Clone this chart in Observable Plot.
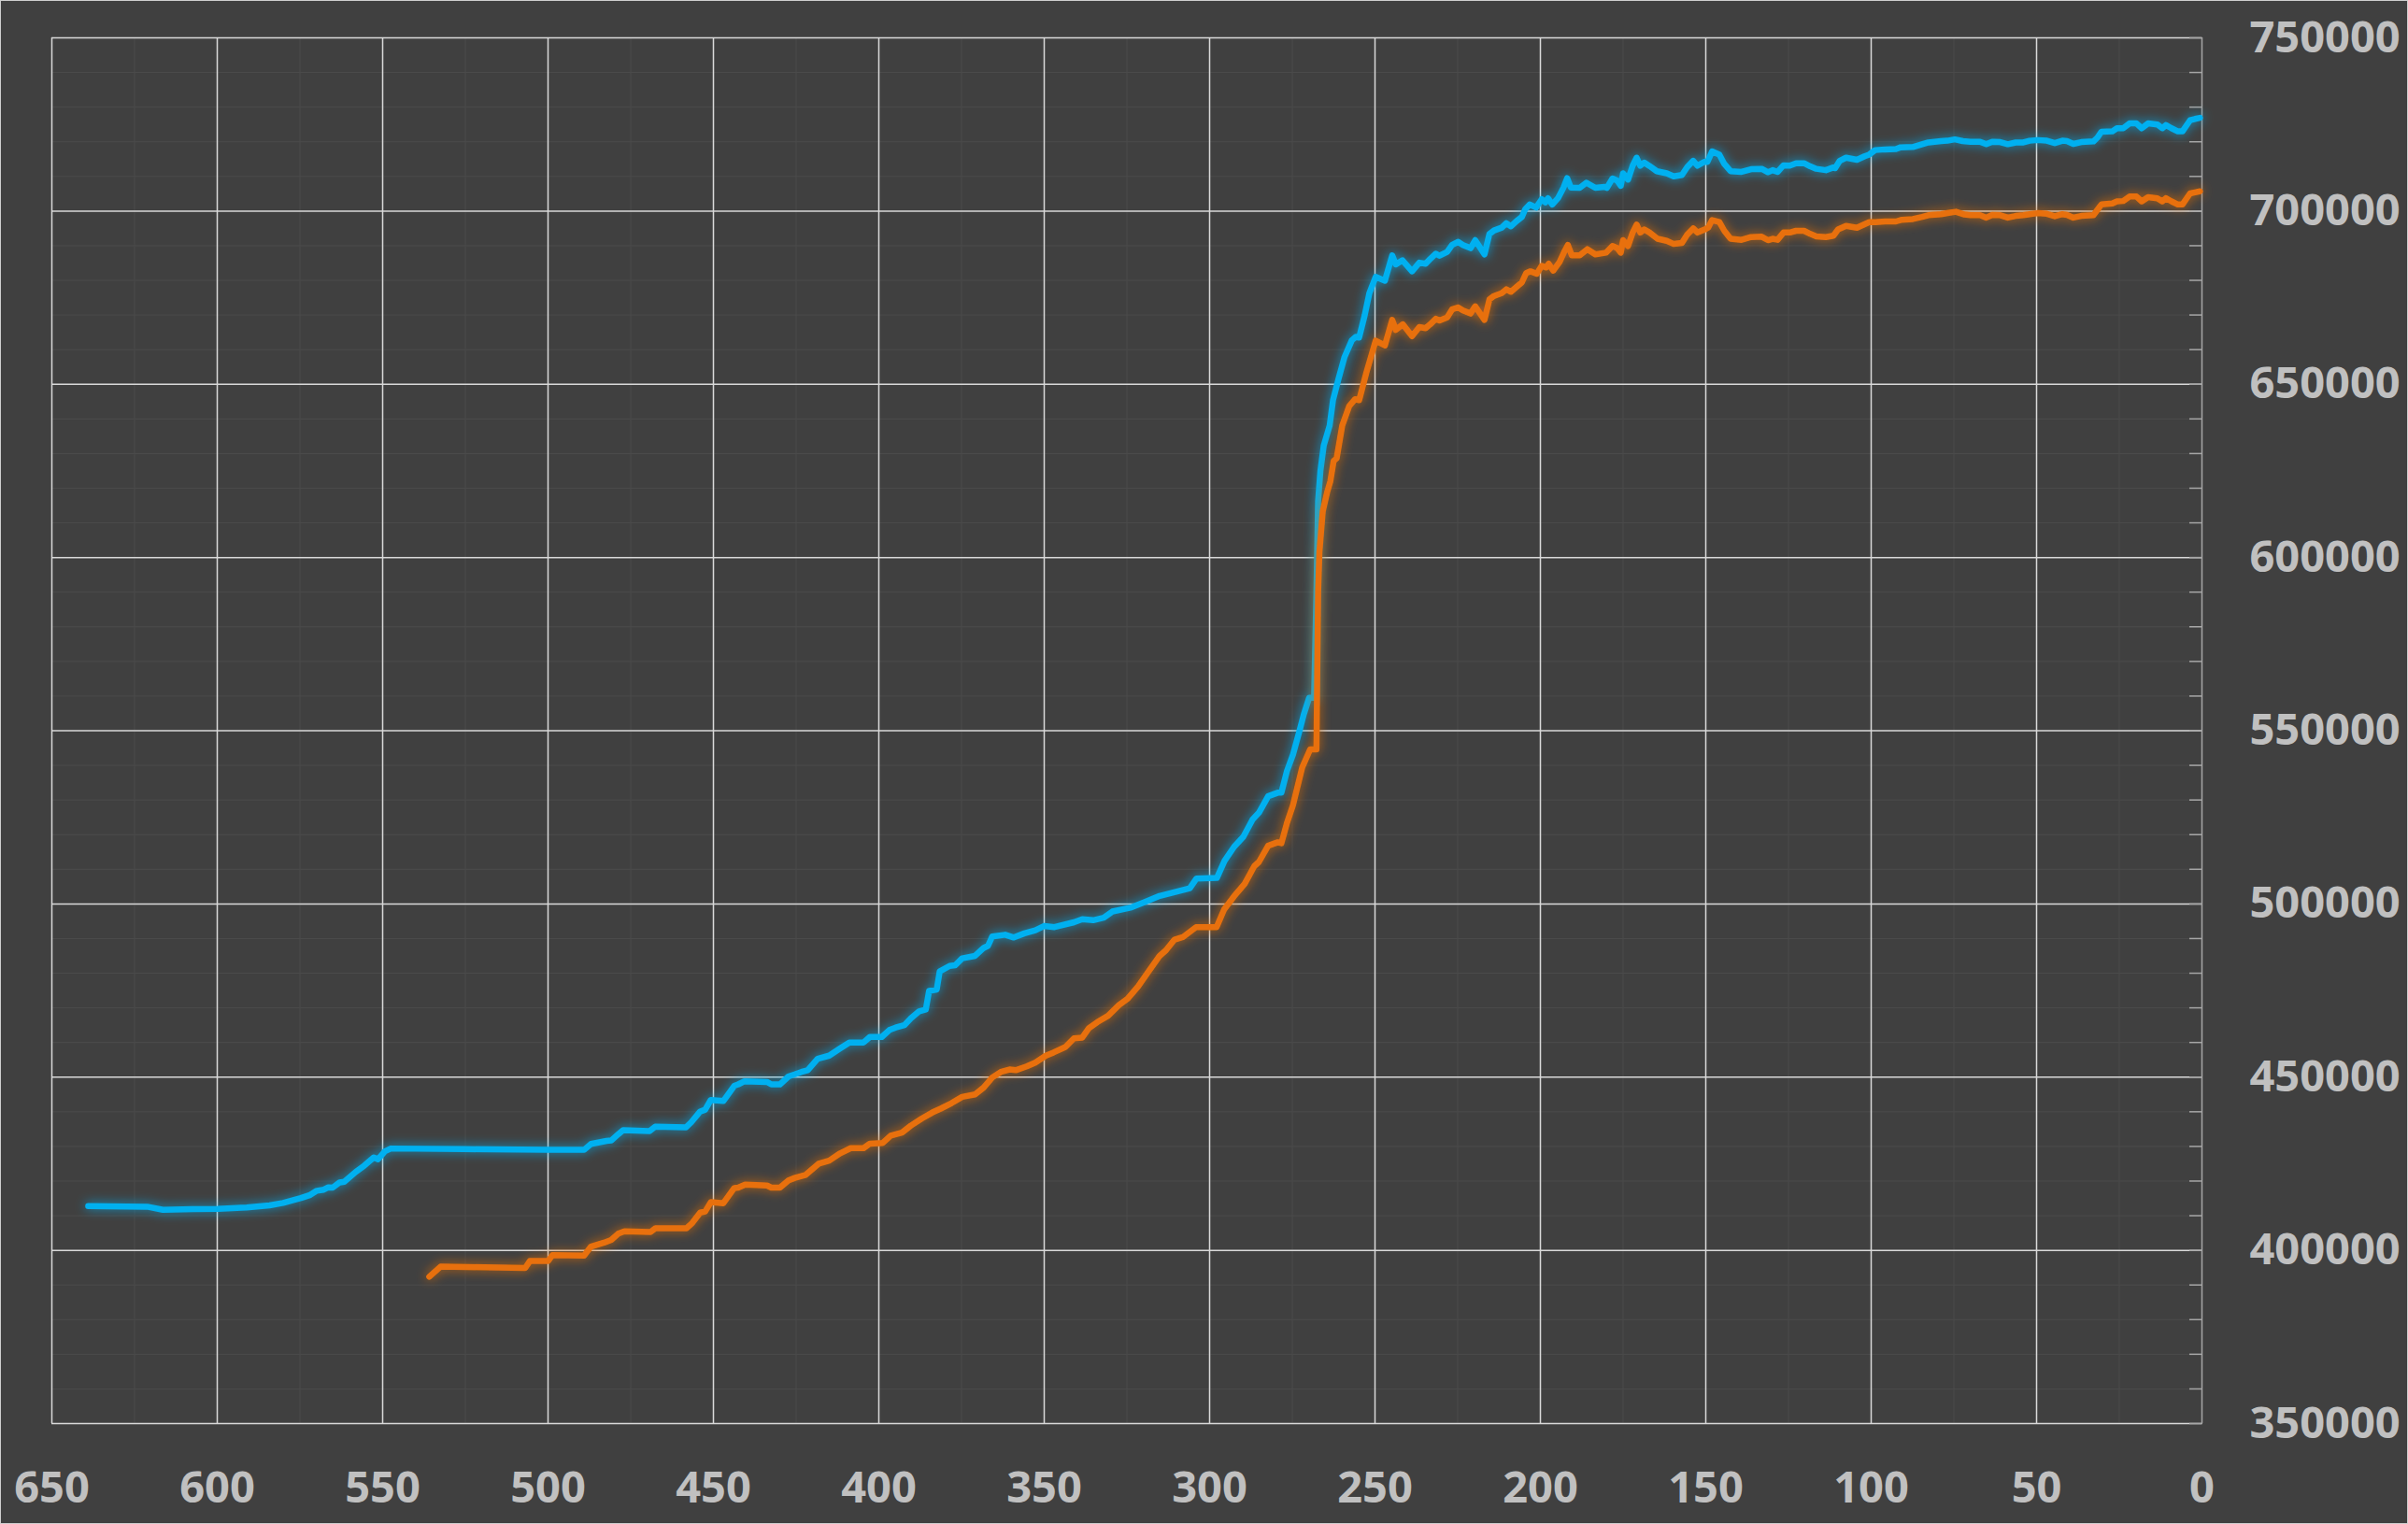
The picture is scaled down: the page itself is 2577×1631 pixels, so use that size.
<!DOCTYPE html>
<html>
<head>
<meta charset="utf-8">
<script src="https://cdn.jsdelivr.net/npm/d3@7"></script>
<script src="https://cdn.jsdelivr.net/npm/@observablehq/plot@0.6"></script>
<style>
  html, body { margin: 0; padding: 0; background: #404040; }
  #wrap { position: relative; width: 2577px; height: 1631px; background: #404040; overflow: hidden; }
  #frame { position: absolute; left: 0; top: 0; width: 2577px; height: 1631px; box-sizing: border-box; border: 1px solid #cfcfcf; pointer-events: none; }
  svg { display: block; }
</style>
</head>
<body>
<div id="wrap"><div id="frame"></div></div>
<script>
// ---- data ----
const blueX = [639.0,621.2,616.4,607.5,599.8,591.1,584.2,580.1,574.7,571.9,569.9,567.8,566.4,565.1,563.0,561.6,558.2,555.5,552.7,551.4,549.3,547.5,525.4,500.0,489.1,487.0,482.3,480.9,478.8,477.3,469.3,467.6,458.3,456.7,454.1,452.5,450.8,447.0,443.7,442.5,440.6,433.8,432.5,429.9,427.3,425.4,423.4,421.5,418.5,415.0,411.7,408.9,404.6,402.7,399.1,396.8,394.9,392.3,390.3,387.8,385.8,384.8,382.5,381.6,378.6,376.9,374.8,370.9,368.3,367.0,365.7,361.8,359.2,356.0,352.7,350.1,346.9,341.0,338.5,335.2,332.0,329.4,323.6,319.7,315.1,309.3,306.0,304.0,297.8,295.5,292.6,289.8,287.0,285.1,282.3,279.4,278.3,276.6,274.8,272.9,271.5,269.9,268.4,267.7,267.2,266.5,265.5,263.7,262.7,261.1,259.2,257.0,255.8,254.8,253.1,251.7,249.8,247.0,244.8,243.7,241.7,238.8,236.6,234.7,233.3,231.6,230.5,228.2,226.7,224.9,223.4,221.1,219.7,216.9,215.4,214.0,211.7,210.3,208.9,207.2,205.6,204.6,203.2,201.3,199.6,198.5,197.7,196.4,194.7,193.0,191.9,190.8,188.1,186.1,183.4,180.6,179.9,178.2,176.8,175.7,175.0,173.5,172.1,170.9,169.8,168.6,167.0,164.8,161.8,159.7,157.2,155.6,153.8,152.5,150.5,149.5,148.1,145.9,144.4,142.5,139.2,136.3,133.1,131.2,129.8,128.3,126.5,124.6,122.7,120.3,118.4,116.6,113.7,111.4,110.9,109.5,107.6,104.3,102.0,100.6,98.8,95.8,92.5,91.1,87.4,84.6,82.7,78.9,77.0,74.7,72.3,70.0,67.1,65.2,63.4,61.0,58.7,56.3,54.0,52.1,49.7,46.9,44.5,42.2,40.8,38.9,36.5,32.8,31.6,30.4,27.1,25.7,23.8,21.9,19.8,18.2,16.3,13.5,12.0,10.9,9.2,7.3,5.9,3.6,2.1,0.6];
const blueY = [412800,412600,411700,411900,412000,412400,413000,413700,415100,416000,417200,417500,418200,418100,419600,419800,422600,424500,426800,426300,428600,429400,429200,429000,429000,430700,431600,431700,433500,434700,434400,435700,435500,437000,440000,440600,443400,443100,447500,447900,448800,448600,447900,447900,450200,450800,451500,452000,455300,456200,458300,460000,460000,461600,461600,463600,464300,465000,467000,469000,469500,474900,475300,480500,482100,482300,484300,485000,487300,487900,490600,491100,490300,491500,492400,493600,493300,494700,495600,495300,496000,497800,499000,500500,502300,503700,504500,507300,507500,512400,516500,519400,524400,526300,531100,532100,532100,538400,543100,549700,554800,559500,559500,589900,616200,625000,632300,638100,645400,651300,657900,662700,663700,663500,670000,676300,681000,679900,687200,684600,685800,682600,685100,684800,686200,687700,687100,688200,690200,691100,690200,689300,691600,687500,693400,694400,695200,696500,695600,697100,698300,700500,701900,701000,703400,702500,703700,701900,703700,706800,709500,706800,706700,708200,706700,707000,706700,709400,708800,707300,710900,709100,713100,715400,713100,714000,713000,711500,710900,710000,710400,712700,714500,713100,714200,714200,717200,716300,713600,711500,711300,712100,712200,711200,711800,711300,713200,713100,713800,713800,712900,712200,711800,712600,712400,714500,715400,714800,715800,716300,717600,717800,717900,718400,718500,719300,719800,720200,720300,720700,720200,720000,720000,719300,720000,719900,719300,719800,719800,720300,720500,720300,719600,720300,720200,719400,719900,720100,721200,722900,723000,723900,723900,725300,725300,723900,725300,725000,723900,724800,723900,723000,723000,726200,726600,726900];

const orangeX = [535.9,532.5,506.9,505.5,500.0,498.7,489.1,487.0,483.1,480.9,478.8,476.9,469.0,467.5,458.1,456.4,454.0,452.5,450.8,447.0,443.7,442.5,440.4,433.8,432.5,429.9,427.3,425.4,422.1,418.2,415.0,411.7,408.5,404.6,402.7,398.8,396.4,393.0,390.3,387.1,383.8,381.3,378.0,374.8,370.9,368.3,365.7,363.1,360.5,358.6,355.3,352.7,349.5,347.2,343.6,341.0,338.5,336.5,333.9,330.7,327.4,324.8,321.6,318.3,315.1,313.2,310.6,308.1,304.1,297.9,295.6,292.6,289.4,286.5,285.1,282.3,279.4,278.3,276.6,274.8,272.0,269.6,267.7,267.2,266.8,265.8,264.4,263.5,262.5,261.6,259.9,257.8,256.0,254.8,252.6,249.8,247.0,244.8,243.7,241.6,238.8,236.6,234.7,233.3,231.6,230.5,228.2,226.7,224.9,223.4,221.1,219.7,216.9,215.4,214.0,211.7,210.3,208.9,207.2,205.6,204.3,203.0,201.1,199.6,198.3,197.5,196.1,194.2,192.9,191.7,190.5,188.1,185.8,183.4,180.1,178.2,176.8,175.7,175.0,173.5,172.1,170.9,169.8,168.6,167.0,164.6,161.8,159.7,157.2,155.6,153.8,152.5,150.3,149.3,148.1,145.9,144.4,142.5,139.2,136.3,133.1,131.2,129.8,128.3,126.5,124.6,122.7,120.3,118.4,116.6,113.7,111.4,110.0,107.6,104.3,102.0,100.6,98.7,95.8,92.5,90.7,87.4,84.6,82.7,78.9,76.5,74.4,71.8,70.0,67.1,65.2,63.4,61.0,58.7,56.3,54.0,52.1,49.7,46.9,44.5,42.2,40.8,38.9,36.5,32.8,31.8,30.4,27.1,25.7,23.8,21.9,19.8,18.2,16.3,13.5,12.0,10.9,9.2,7.3,5.9,3.6,2.1,0.6];
const orangeY = [392400,395300,394900,396900,396900,398600,398500,401100,402200,403000,404800,405500,405300,406400,406400,407900,410900,411200,413900,413600,418000,418100,419000,418700,418100,418100,420200,420900,421800,425000,425900,428000,429500,429500,430800,431000,433100,434000,436000,438000,439800,440900,442500,444300,445000,447000,449900,451500,452200,452000,453100,454200,456200,457100,458700,461200,461400,464100,465900,467700,470800,472600,476200,480700,485000,486600,489700,490400,493300,493300,498400,502200,505800,510900,512100,516800,517800,517500,523400,528500,539400,544600,544600,589900,601600,613300,619100,622000,627900,628600,638100,643700,645700,645400,653400,662600,661200,668600,665700,667300,663900,666500,666200,667300,668900,668400,669300,671600,672200,671300,670400,672500,668600,674500,675500,676300,677400,676700,678100,679400,682100,682600,681900,684200,683700,684800,682800,685300,688000,690200,687200,687200,689000,687500,688000,689900,689300,688000,691600,689900,693800,696100,693800,694700,693800,692000,691400,690500,690800,693200,695000,693800,694700,695200,697400,696800,694300,692000,691700,692500,692600,691600,692000,691700,693800,693800,694300,694300,693400,692700,692500,692900,694700,695700,695200,696200,696800,696800,697000,697000,697500,697700,698300,698800,699100,699500,699800,699000,698800,698800,698100,698900,698800,698100,698600,698800,699100,699400,699200,698500,699100,698900,698100,698600,698800,700100,701900,702200,702800,702900,704200,704200,702800,704000,703700,702800,703700,702800,701900,701900,705100,705400,705700];

const xTicks = d3.range(0, 651, 50);
const xGridMajor = d3.range(50, 651, 50);
const xGridMinor = d3.range(25, 650, 50);
const yTicks = d3.range(350000, 750001, 50000);
const yGridMinor = d3.range(360000, 750000, 10000).filter(v => v % 50000 !== 0);
const yTickMarks = d3.range(350000, 750001, 10000);

const blue = blueX.map((x, i) => ({x, y: blueY[i]}));
const orange = orangeX.map((x, i) => ({x, y: orangeY[i]}));

const labelColor = "#c0c0c0";
const chart = Plot.plot({
  width: 2577,
  height: 1631,
  marginLeft: 55,
  marginRight: 221,
  marginTop: 40,
  marginBottom: 108,
  style: {background: "transparent", color: labelColor, fontFamily: "'Open Sans', sans-serif", fontWeight: "bold"},
  x: {domain: [650, 0], axis: null},
  y: {domain: [350000, 750000], axis: null},
  marks: [
    Plot.gridY(yGridMinor, {stroke: "#4b4b4b", strokeOpacity: 1, strokeWidth: 1}),
    Plot.gridX(xGridMinor, {stroke: "#4b4b4b", strokeOpacity: 1, strokeWidth: 1}),
    Plot.gridY(yTicks, {stroke: "#d9d9d9", strokeOpacity: 1, strokeWidth: 1.5}),
    Plot.gridX(xGridMajor, {stroke: "#d9d9d9", strokeOpacity: 1, strokeWidth: 1.5}),
    Plot.ruleX([0], {stroke: "#a6a6a6", strokeWidth: 1.5}),
    Plot.axisY(yTickMarks, {anchor: "right", label: null, tickSize: -14, stroke: "#a6a6a6", strokeWidth: 1.5, tickFormat: () => ""}),
    Plot.axisX(xTicks, {anchor: "bottom", label: null, tickSize: 0, tickPadding: 51, fontSize: 47, fontWeight: "bold", fill: labelColor, tickFormat: d3.format("d")}),
    Plot.axisY(yTicks, {anchor: "right", label: null, tickSize: 0, tickPadding: 51, textAnchor: "start", fontSize: 47, fontWeight: "bold", fill: labelColor, tickFormat: d3.format("d")}),
    Plot.line(blue, {x: "x", y: "y", stroke: "#00b0f0", strokeWidth: 6.5, strokeLinejoin: "round", strokeLinecap: "round"}),
    Plot.line(orange, {x: "x", y: "y", stroke: "#e8700c", strokeWidth: 6.5, strokeLinejoin: "round", strokeLinecap: "round"})
  ]
});

// soft glow around the lines
const svg = d3.select(chart);
const defs = svg.insert("defs", ":first-child");
const f = defs.append("filter").attr("id", "glow")
  .attr("filterUnits", "userSpaceOnUse").attr("x", 0).attr("y", 0).attr("width", 2577).attr("height", 1631);
f.append("feGaussianBlur").attr("in", "SourceGraphic").attr("stdDeviation", 6).attr("result", "b");
f.append("feComponentTransfer").attr("in", "b").attr("result", "b2")
  .append("feFuncA").attr("type", "linear").attr("slope", 0.8);
const m = f.append("feMerge");
m.append("feMergeNode").attr("in", "b2");
m.append("feMergeNode").attr("in", "SourceGraphic");
svg.selectAll('g[aria-label="line"]').attr("filter", "url(#glow)");

document.getElementById("wrap").insertBefore(chart, document.getElementById("frame"));
</script>
</body>
</html>
